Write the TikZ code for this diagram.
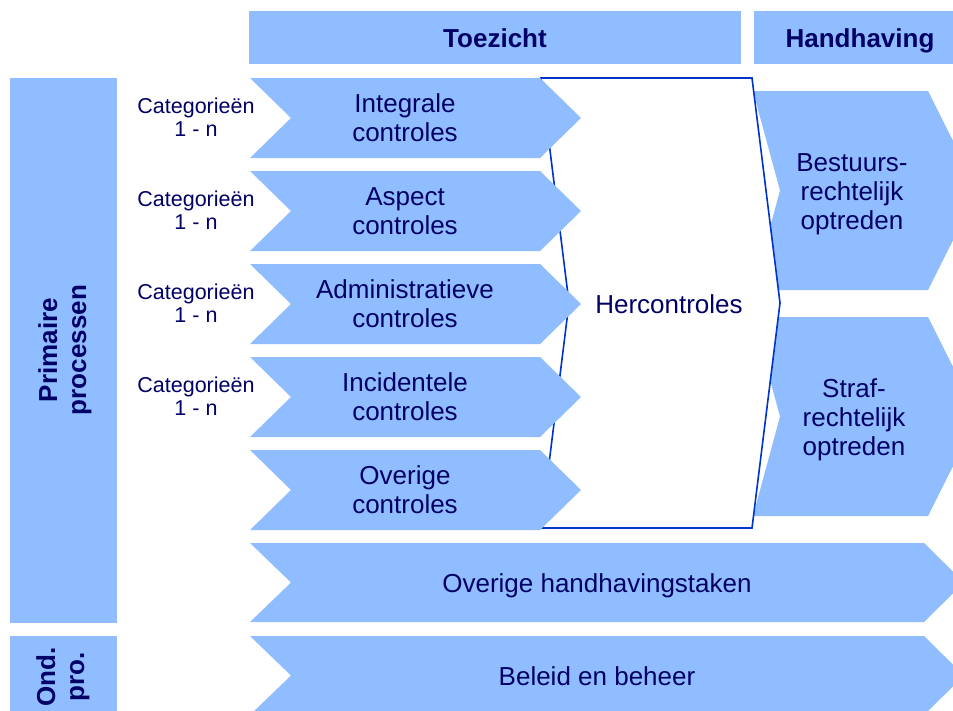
\documentclass[tikz,border=0pt]{standalone}
\usepackage{fontspec}
\setmainfont{Liberation Sans}
\definecolor{boxfill}{RGB}{143,189,255}
\definecolor{navytext}{RGB}{0,0,102}
\definecolor{edgeblue}{RGB}{0,51,204}
\newcommand{\chevron}[7]{% name, left, top, right, bottom, indent, tip
  \fill[boxfill] (#2,#3) -- (#4,#3) -- ({#4+#7},{(#3+#5)/2}) -- (#4,#5) -- (#2,#5) -- ({#2+#6},{(#3+#5)/2}) -- cycle;
  \coordinate (#1) at ({(#2+#4)/2},{(#3+#5)/2});
}
\tikzset{
  lbl/.style={text=navytext, font=\fontsize{26}{29}\selectfont, align=center, inner sep=0pt},
  smalllbl/.style={text=navytext, font=\fontsize{21.5}{23.5}\selectfont, align=center, inner sep=0pt},
  boldlbl/.style={text=navytext, font=\bfseries\fontsize{26}{29}\selectfont, align=center, inner sep=0pt},
}
\begin{document}
\begin{tikzpicture}[x=1pt,y=-1pt]
\clip (0,0) rectangle (953,710);
\fill[white] (0,0) rectangle (953,710);
% headers
\fill[boxfill] (249,11) rectangle (741,64);
\fill[boxfill] (754,11) rectangle (960,64);
\node[boldlbl, anchor=base] (toezicht) at (495,47) {Toezicht};
\node[boldlbl, anchor=base] (handhaving) at (860,47) {Handhaving};
% left column
\fill[boxfill] (10,78) rectangle (117,623);
\fill[boxfill] (10,636) rectangle (117,716);
\node[boldlbl, rotate=90] (primaire) at (65,350) {Primaire\\processen};
\node[boldlbl, rotate=90] (ondpro) at (63,677) {Ond.\\pro.};
% handhaving arrows (under Hercontroles)
\chevron{bestuurs}{753}{91}{928}{290}{27}{50}
\chevron{straf}{753}{317}{928}{516}{27}{50}
\node[lbl] (bestuurslbl) at (852,194) {Bestuurs-\\rechtelijk\\optreden};
\node[lbl] (straflbl) at (854,420) {Straf-\\rechtelijk\\optreden};
% Hercontroles
\filldraw[fill=white, draw=edgeblue, line width=1.6pt, line join=miter]
  (541,78) -- (752,78) -- (780,303) -- (752,528) -- (541,528) -- (569,303) -- cycle;
\node[lbl, anchor=base] (herc) at (669,313) {Hercontroles};
% toezicht arrows
\chevron{integrale}{250}{78}{540}{158}{41}{41}
\chevron{aspect}{250}{171}{540}{251}{41}{41}
\chevron{admin}{250}{264}{540}{344}{41}{41}
\chevron{incid}{250}{357}{540}{437}{41}{41}
\chevron{overig}{250}{450}{540}{530}{41}{41}
\node[lbl] (integralelbl) at (405,118) {Integrale\\controles};
\node[lbl] (aspectlbl) at (405,211) {Aspect\\controles};
\node[lbl] (adminlbl) at (405,304) {Administratieve\\controles};
\node[lbl] (incidlbl) at (405,397) {Incidentele\\controles};
\node[lbl] (overiglbl) at (405,490) {Overige\\controles};
% categories
\node[smalllbl] (cat1) at (196,117) {Categorieën\\1 - n};
\node[smalllbl] (cat2) at (196,210) {Categorieën\\1 - n};
\node[smalllbl] (cat3) at (196,303) {Categorieën\\1 - n};
\node[smalllbl] (cat4) at (196,396) {Categorieën\\1 - n};
% bottom arrows
\chevron{overigh}{250}{543}{924}{622}{41}{40}
\chevron{beleid}{250}{636}{924}{715}{41}{40}
\node[lbl, anchor=base] (overighlbl) at (597,592) {Overige handhavingstaken};
\node[lbl, anchor=base] (beleidlbl) at (597,685) {Beleid en beheer};
\end{tikzpicture}
\end{document}
